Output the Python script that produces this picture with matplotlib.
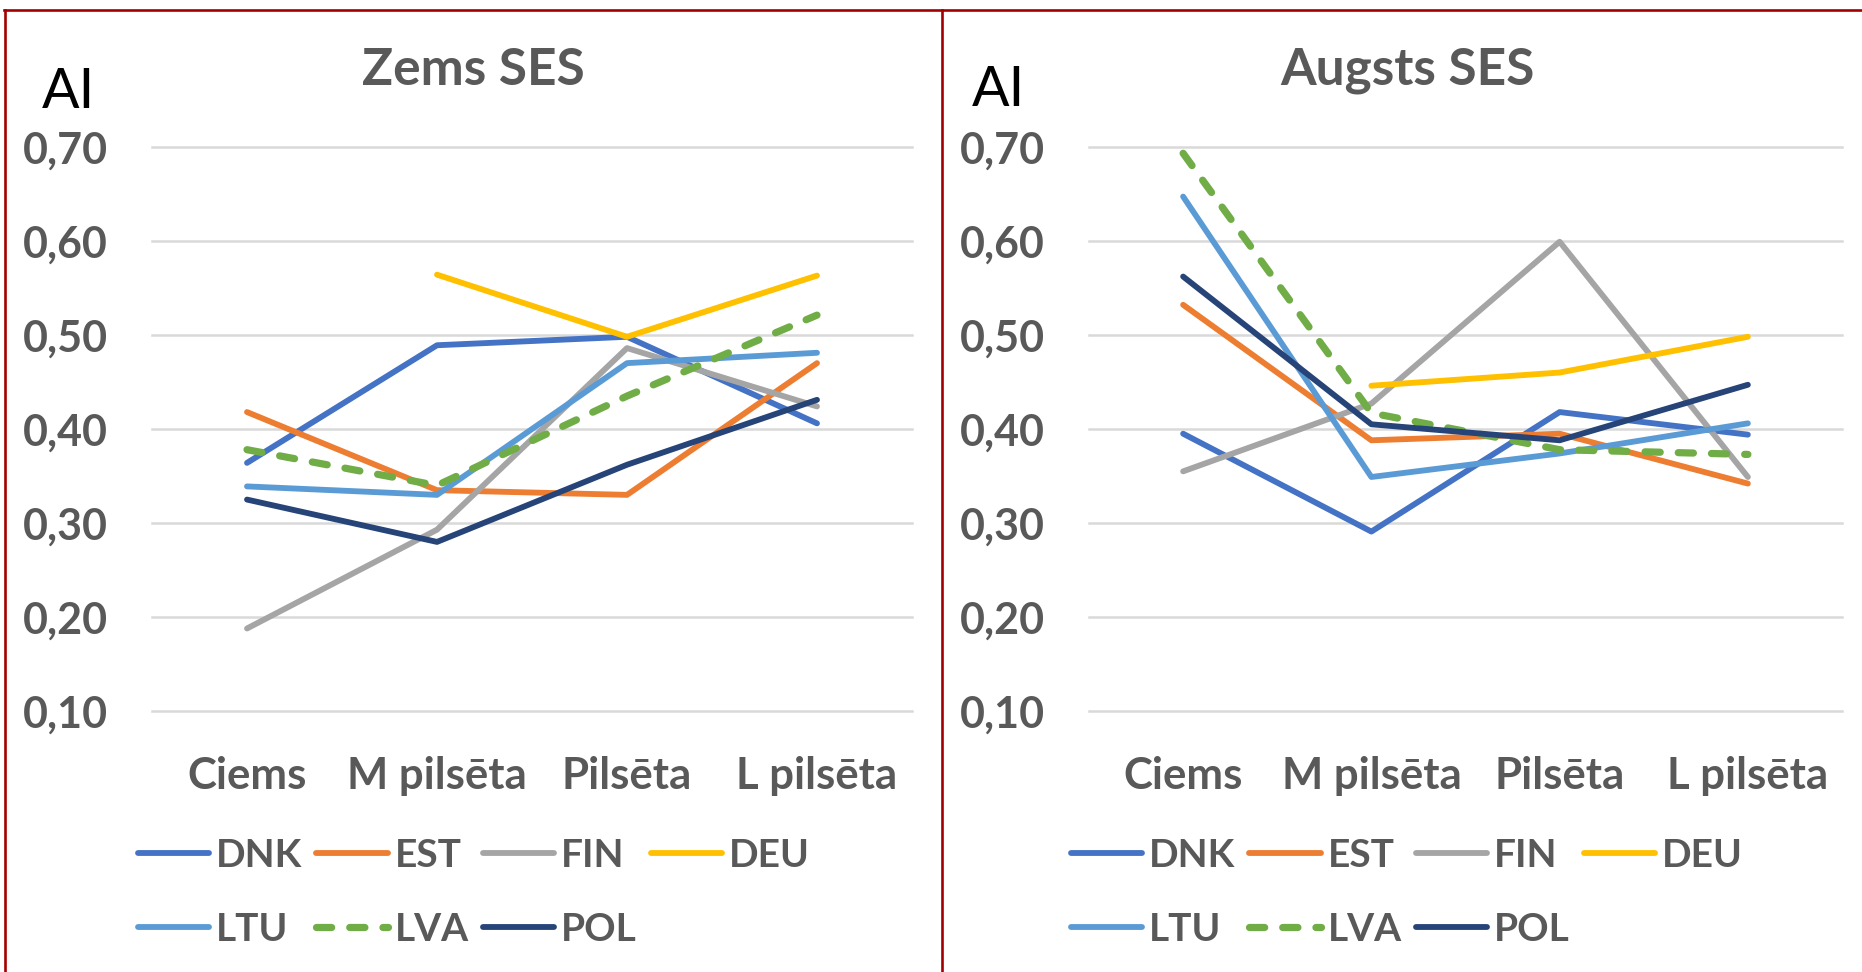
import numpy as np
import matplotlib
matplotlib.use("Agg")
import matplotlib.pyplot as plt
from matplotlib.lines import Line2D

# ---------------- data ----------------
categories = ["Ciems", "M pilsēta", "Pilsēta", "L pilsēta"]
countries = ["DNK", "EST", "FIN", "DEU", "LTU", "LVA", "POL"]
y_ticks = [0.10, 0.20, 0.30, 0.40, 0.50, 0.60, 0.70]
y_tick_labels = ["0,10", "0,20", "0,30", "0,40", "0,50", "0,60", "0,70"]

# Zems SES (low SES)
low_dnk = [0.364, 0.489, 0.498, 0.406]
low_est = [0.418, 0.335, 0.330, 0.470]
low_fin = [0.188, 0.293, 0.486, 0.424]
low_deu = [np.nan, 0.564, 0.498, 0.563]
low_ltu = [0.339, 0.330, 0.470, 0.481]
low_lva = [0.378, 0.340, 0.435, 0.521]
low_pol = [0.325, 0.280, 0.362, 0.431]

# Augsts SES (high SES)
high_dnk = [0.395, 0.291, 0.418, 0.394]
high_est = [0.532, 0.388, 0.395, 0.342]
high_fin = [0.355, 0.427, 0.599, 0.349]
high_deu = [np.nan, 0.446, 0.460, 0.498]
high_ltu = [0.647, 0.349, 0.374, 0.406]
high_lva = [0.693, 0.417, 0.378, 0.373]
high_pol = [0.562, 0.405, 0.388, 0.447]

low_series = [low_dnk, low_est, low_fin, low_deu, low_ltu, low_lva, low_pol]
high_series = [high_dnk, high_est, high_fin, high_deu, high_ltu, high_lva, high_pol]

# ---------------- style ----------------
colors = ["#4472C4", "#ED7D31", "#A5A5A5", "#FFC000", "#5B9BD5", "#70AD47", "#264478"]
FONT = ["Lato", "DejaVu Sans"]
plt.rcParams["font.family"] = FONT
TXT = "#595959"

W, H = 1862, 972
fig = plt.figure(figsize=(W / 100, H / 100), dpi=100)

def px_axes(x0, x1, ytop, ybot):
    return fig.add_axes([x0 / W, 1 - ybot / H, (x1 - x0) / W, (ybot - ytop) / H])

panels = [
    dict(ax=px_axes(152, 912, 146.7, 711.3), data=low_series, title="Zems SES",
         title_x=473.5, ai_x=42, ai_base=108, leg_x=138),
    dict(ax=px_axes(1089, 1842, 146.7, 711.3), data=high_series, title="Augsts SES",
         title_x=1407, ai_x=972, ai_base=106, leg_x=1071),
]

# legend entries laid out row by row (matplotlib fills legends column-wise)
legend_order = [0, 4, 1, 5, 2, 6, 3]

x = np.arange(len(categories))
for p in panels:
    ax = p["ax"]
    handles = []
    for name, vals, c in zip(countries, p["data"], colors):
        if name == "LVA":
            h, = ax.plot(x, vals, color=c, lw=5.2, linestyle=(0, (2.1, 2.5)),
                         dash_capstyle="round", solid_capstyle="round", label=name, zorder=3)
        else:
            h, = ax.plot(x, vals, color=c, lw=4.2, solid_capstyle="round", label=name, zorder=3)
        handles.append(h)
    ax.set_xlim(-0.5, len(categories) - 0.5)
    ax.set_ylim(0.10, 0.70)
    ax.set_yticks(y_ticks)
    ax.set_yticklabels(y_tick_labels)
    ax.set_xticks(x)
    ax.set_xticklabels(categories)
    for s in ax.spines.values():
        s.set_visible(False)
    ax.tick_params(axis="y", length=0, pad=32, labelsize=31, labelcolor=TXT)
    ax.tick_params(axis="x", length=0, pad=32, labelsize=31.5, labelcolor=TXT)
    for lab in ax.get_xticklabels() + ax.get_yticklabels():
        lab.set_fontweight("bold")
    ax.yaxis.grid(True, color="#D9D9D9", lw=1.8)
    for gl in ax.get_ygridlines():
        gl.set_clip_on(False)
    ax.set_axisbelow(True)

    fig.text(p["title_x"] / W, 1 - 85 / H, p["title"], ha="center", va="baseline",
             fontsize=37, fontweight="bold", color=TXT)
    fig.text(p["ai_x"] / W, 1 - p["ai_base"] / H, "AI", ha="left", va="baseline",
             fontsize=40, color="black")

    leg = ax.legend([handles[i] for i in legend_order], [countries[i] for i in legend_order],
                    loc="upper left", bbox_to_anchor=(p["leg_x"] / W, 1 - 838 / H),
                    bbox_transform=fig.transFigure, ncol=4, frameon=False,
                    fontsize=28, handlelength=1.83, handletextpad=0.18,
                    columnspacing=0.36, labelspacing=1.0, borderpad=0, borderaxespad=0)
    for t in leg.get_texts():
        t.set_color(TXT)
        t.set_fontweight("bold")

# red frame lines
frame_col = "#A50000"
fig.add_artist(Line2D([4 / W, 1], [1 - 10 / H, 1 - 10 / H], color=frame_col, lw=1.9,
                      transform=fig.transFigure))
fig.add_artist(Line2D([5 / W, 5 / W], [0, 1 - 10 / H], color=frame_col, lw=1.9,
                      transform=fig.transFigure))
fig.add_artist(Line2D([942 / W, 942 / W], [0, 1 - 10 / H], color=frame_col, lw=1.9,
                      transform=fig.transFigure))

fig.savefig("out.png", dpi=100, facecolor="white")
